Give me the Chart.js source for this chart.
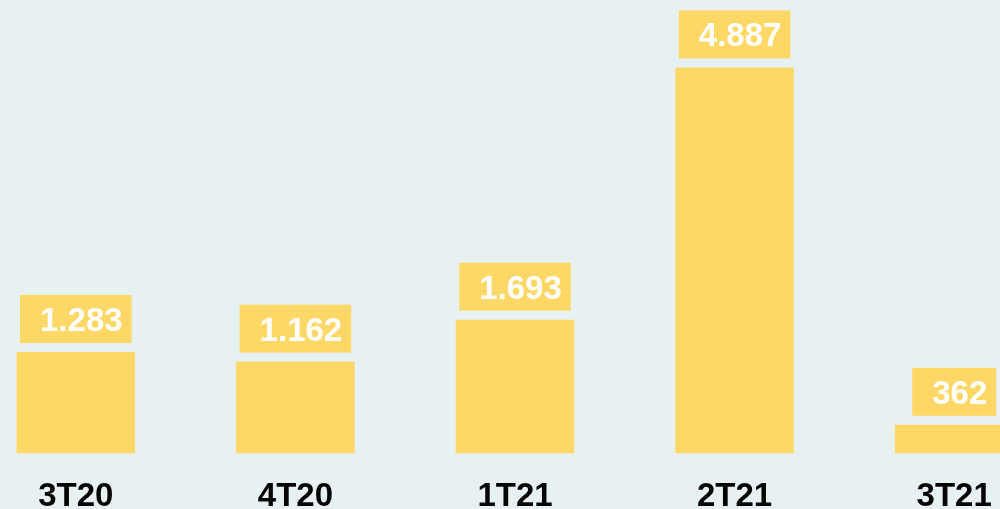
<!DOCTYPE html>
<html>
<head>
  <title>Resultado por trimestre</title>
  <script src="https://cdn.jsdelivr.net/npm/chart.js"></script>
  <style>
    html, body { margin: 0; padding: 0; width: 1000px; height: 509px; overflow: hidden; background: #e8f1f2; }
    .chart-container { position: absolute; left: -34px; top: 0; width: 1098px; height: 546px; }
  </style>
</head>
<body>
  <div class="chart-container">
    <canvas id="barChart"></canvas>
  </div>

  <script>
    const periods = ['3T20', '4T20', '1T21', '2T21', '3T21'];
    const values = [1283, 1162, 1693, 4887, 362];

    const barColor = '#fdd867';

    // 1283 -> "1.283"
    function fmt(v) {
      return String(v).replace(/\B(?=(\d{3})+(?!\d))/g, '.');
    }

    // boxed value above each bar
    const boxLabels = {
      id: 'boxLabels',
      afterDatasetsDraw(chart) {
        const ctx = chart.ctx;
        const meta = chart.getDatasetMeta(0);
        ctx.save();
        ctx.font = 'bold 33px "Liberation Sans", Arial, sans-serif';
        ctx.textAlign = 'right';
        ctx.textBaseline = 'alphabetic';
        meta.data.forEach((bar, i) => {
          const txt = fmt(values[i]);
          const w = ctx.measureText(txt).width + 29;
          const h = 48;
          const left = bar.x - w / 2;
          const top = bar.y - 9 - h;
          ctx.fillStyle = barColor;
          ctx.fillRect(left, top, w, h);
          ctx.fillStyle = '#ffffff';
          ctx.fillText(txt, left + w - 9, top + 36);
        });
        ctx.restore();
      }
    };

    new Chart(document.getElementById('barChart'), {
      type: 'bar',
      data: {
        labels: periods,
        datasets: [{
          data: values,
          backgroundColor: barColor,
          borderWidth: 0,
          barPercentage: 0.54,
          categoryPercentage: 1
        }]
      },
      options: {
        responsive: true,
        maintainAspectRatio: false,
        animation: false,
        layout: { padding: { top: 19, bottom: 5, left: 0, right: 0 } },
        plugins: {
          legend: { display: false },
          tooltip: { enabled: false }
        },
        scales: {
          x: {
            grid: { display: false, drawTicks: false },
            border: { display: false },
            ticks: {
              color: '#050505',
              padding: 24,
              font: { family: '"Liberation Sans", Arial, sans-serif', size: 33, weight: 'bold' }
            }
          },
          y: {
            display: false,
            min: 0,
            max: 5500
          }
        }
      },
      plugins: [boxLabels]
    });
  </script>
</body>
</html>
